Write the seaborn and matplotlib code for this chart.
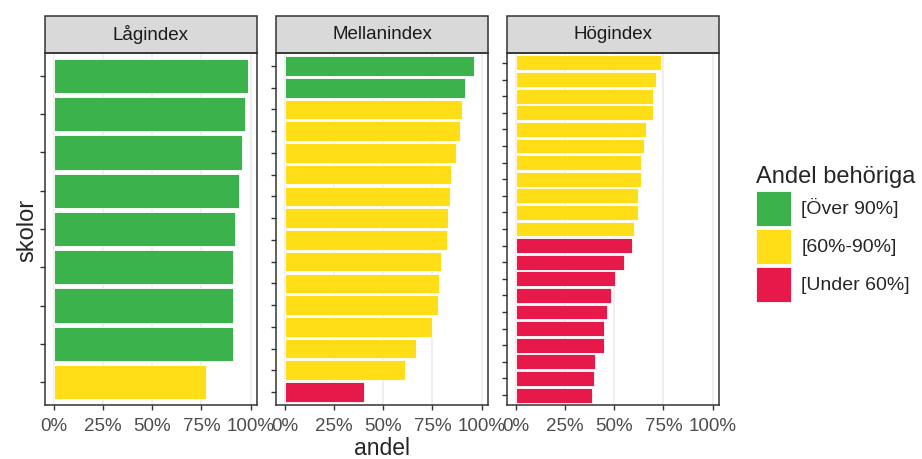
import seaborn as sns
import pandas as pd
import matplotlib.pyplot as plt
from matplotlib.patches import Rectangle

# data
panels = ['Lågindex', 'Mellanindex', 'Högindex']
lag = [0.985, 0.97, 0.955, 0.94, 0.92, 0.91, 0.91, 0.91, 0.775]
mellan = [0.96, 0.915, 0.90, 0.89, 0.872, 0.845, 0.84, 0.83, 0.825,
          0.795, 0.785, 0.78, 0.75, 0.667, 0.61, 0.40]
hog = [0.736, 0.711, 0.698, 0.696, 0.662, 0.651, 0.638, 0.636, 0.622,
       0.621, 0.60, 0.592, 0.548, 0.505, 0.483, 0.463, 0.449, 0.449,
       0.403, 0.395, 0.384]
categories = ['[Över 90%]', '[60%-90%]', '[Under 60%]']
colors = ['#3BB24B', '#FFDE17', '#E6194A']


def klass(v):
    if v > 0.9:
        return categories[0]
    if v >= 0.6:
        return categories[1]
    return categories[2]


rows = []
for name, vals in zip(panels, [lag, mellan, hog]):
    for i, v in enumerate(vals):
        rows.append({'index': name, 'skola': f'{name}_{i}', 'andel': v,
                     'grupp': klass(v)})
df = pd.DataFrame(rows)

sns.set_style('white')
plt.rcParams['font.family'] = ['Liberation Sans', 'DejaVu Sans']

W, H = 922, 459
fig = plt.figure(figsize=(W / 100, H / 100), dpi=100)

lefts = [45, 276, 507]
pw, top, bot = 212, 53, 405
strip_h = 37
pal = dict(zip(categories, colors))

axes = []
for name, left in zip(panels, lefts):
    ax = fig.add_axes([left / W, 1 - bot / H, pw / W, (bot - top) / H])
    sub = df[df['index'] == name]
    sns.barplot(data=sub, x='andel', y='skola', hue='grupp',
                hue_order=categories, palette=pal, orient='h', dodge=False,
                width=0.9, saturation=1, edgecolor='#FFFFFF', linewidth=0.6,
                legend=True, ax=ax, zorder=3)
    handles, labels = ax.get_legend_handles_labels()
    ax.get_legend().remove()
    n = len(sub)
    ax.set_ylim(n - 1 + 0.6, -0.6)
    ax.set_xlim(-0.047, 1.033)
    ax.set_xticks([0, 0.25, 0.5, 0.75, 1.0])
    ax.set_xticklabels(['0%', '25%', '50%', '75%', '100%'])
    ax.set_yticklabels([])
    ax.set_xlabel('')
    ax.set_ylabel('')
    ax.grid(axis='x', color='#EBEBEB', linewidth=1.1, zorder=0)
    ax.grid(axis='y', visible=False)
    ax.set_axisbelow(True)
    for s in ax.spines.values():
        s.set_color('#333333')
        s.set_linewidth(1.1)
    ax.tick_params(axis='both', which='major', length=3.5, width=1.0,
                   color='#333333', labelsize=13.5, labelcolor='#4D4D4D',
                   left=True, bottom=True, pad=6)
    # facet strip
    sh = strip_h / (bot - top)
    ax.add_patch(Rectangle((0, 1), 1, sh, transform=ax.transAxes,
                           facecolor='#D9D9D9', edgecolor='#333333',
                           linewidth=1.1, clip_on=False))
    ax.text(0.5, 1 + sh / 2, name, transform=ax.transAxes, ha='center',
            va='center', fontsize=13.5, color='#1A1A1A')
    axes.append(ax)

fig.text(27 / W, 1 - 230 / H, 'skolor', rotation=90, ha='center',
         va='center', fontsize=17)
fig.text(382 / W, 1 - 455 / H, 'andel', ha='center', va='baseline',
         fontsize=16.5)

leg = fig.legend(handles, labels, loc='upper left',
                 bbox_to_anchor=(742 / W, 1 - 152 / H), frameon=False,
                 title='Andel behöriga', title_fontsize=17, fontsize=14,
                 handlelength=1.8, handleheight=2.4, labelspacing=0.15,
                 handletextpad=0.55, borderpad=0.2)
leg._legend_box.align = 'left'
for h in leg.legend_handles:
    h.set_edgecolor('#FFFFFF')

fig.savefig('out.png', dpi=100)
